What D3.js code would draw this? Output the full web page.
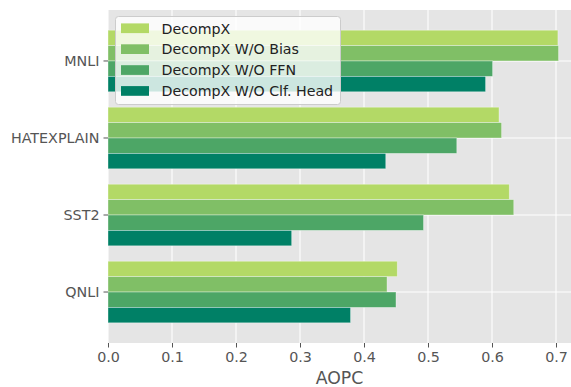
<!DOCTYPE html>
<html>
<head>
<meta charset="utf-8">
<script src="https://cdn.jsdelivr.net/npm/d3@7"></script>
<style>
  body { margin: 0; background: #fff; }
  text { font-family: "DejaVu Sans", sans-serif; }
</style>
</head>
<body>
<svg id="mysvg" width="571" height="387"></svg>
<script>
// chart data
const categories = ["MNLI", "HATEXPLAIN", "SST2", "QNLI"];
const seriesNames = ["DecompX", "DecompX W/O Bias", "DecompX W/O FFN", "DecompX W/O Clf. Head"];
const seriesColors = ["#b3d966", "#80bf66", "#4da666", "#008066"];
const decompx = [0.703, 0.611, 0.627, 0.452];
const woBias = [0.704, 0.615, 0.634, 0.436];
const woFFN = [0.601, 0.545, 0.493, 0.450];
const woClfHead = [0.590, 0.434, 0.287, 0.379];
const xTicks = [0.0, 0.1, 0.2, 0.3, 0.4, 0.5, 0.6, 0.7];

const seriesValues = [decompx, woBias, woFFN, woClfHead];

const svg = d3.select("#mysvg");
const plot = { left: 108, right: 571, top: 10, bottom: 343 };

const x = d3.scaleLinear()
    .domain([0, (plot.right - plot.left) / 640])
    .range([plot.left, plot.right]);

const y = d3.scaleBand()
    .domain(categories)
    .range([plot.top, plot.bottom])
    .paddingInner(0.2)
    .paddingOuter(0.262);

const ySub = d3.scaleBand()
    .domain(d3.range(seriesNames.length))
    .range([0, y.bandwidth()]);

// background
svg.append("rect")
    .attr("x", plot.left).attr("y", plot.top)
    .attr("width", plot.right - plot.left)
    .attr("height", plot.bottom - plot.top)
    .attr("fill", "#e5e5e5");

// grid
svg.append("g").selectAll("line")
    .data(xTicks)
    .join("line")
    .attr("x1", d => x(d)).attr("x2", d => x(d))
    .attr("y1", plot.top).attr("y2", plot.bottom)
    .attr("stroke", "#fff").attr("stroke-width", 1.1);

svg.append("g").selectAll("line")
    .data(categories)
    .join("line")
    .attr("x1", plot.left).attr("x2", plot.right)
    .attr("y1", d => y(d) + y.bandwidth() / 2)
    .attr("y2", d => y(d) + y.bandwidth() / 2)
    .attr("stroke", "#fff").attr("stroke-width", 1.1);

// bars
const bars = svg.append("g");
seriesValues.forEach(function(vals, si) {
    bars.append("g").selectAll("rect")
        .data(vals)
        .join("rect")
        .attr("x", x(0))
        .attr("y", (d, i) => y(categories[i]) + ySub(si))
        .attr("width", d => x(d) - x(0))
        .attr("height", ySub.bandwidth())
        .attr("fill", seriesColors[si])
        .attr("stroke", "rgba(255,255,255,0.45)")
        .attr("stroke-width", 0.8);
});

// x axis
const xAxis = svg.append("g")
    .attr("transform", `translate(0,${plot.bottom})`)
    .call(d3.axisBottom(x).tickValues(xTicks).tickFormat(d3.format(".1f")).tickSize(4.5).tickPadding(4));
xAxis.select(".domain").remove();
xAxis.selectAll("line").attr("stroke", "#555");
xAxis.selectAll("text").attr("fill", "#555").style("font-size", "14.3px").style("font-family", "DejaVu Sans");

// y axis
const yAxis = svg.append("g")
    .attr("transform", `translate(${plot.left},0)`)
    .call(d3.axisLeft(y).tickSize(4.5).tickPadding(4));
yAxis.select(".domain").remove();
yAxis.selectAll("line").attr("stroke", "#555");
yAxis.selectAll("text").attr("fill", "#555").style("font-size", "14.3px").style("font-family", "DejaVu Sans");

// axis label
svg.append("text")
    .attr("x", (plot.left + plot.right) / 2)
    .attr("y", 384)
    .attr("text-anchor", "middle")
    .attr("fill", "#555")
    .style("font-size", "17.3px")
    .text("AOPC");

// legend
const legend = svg.append("g");
legend.append("rect")
    .attr("x", 115.5).attr("y", 16.5)
    .attr("width", 225).attr("height", 88)
    .attr("rx", 3)
    .attr("fill", "rgba(255,255,255,0.8)")
    .attr("stroke", "#cccccc")
    .attr("stroke-width", 1);

const rows = legend.selectAll("g.row")
    .data(seriesNames)
    .join("g")
    .attr("class", "row")
    .attr("transform", (d, i) => `translate(0,${28.3 + i * 20.9})`);

rows.append("rect")
    .attr("x", 121).attr("y", -4.9)
    .attr("width", 28).attr("height", 9.7)
    .attr("fill", (d, i) => seriesColors[i]);

rows.append("text")
    .attr("x", 161.5).attr("y", 5.2)
    .attr("fill", "#222")
    .style("font-size", "14.2px")
    .text(d => d);
</script>
</body>
</html>
